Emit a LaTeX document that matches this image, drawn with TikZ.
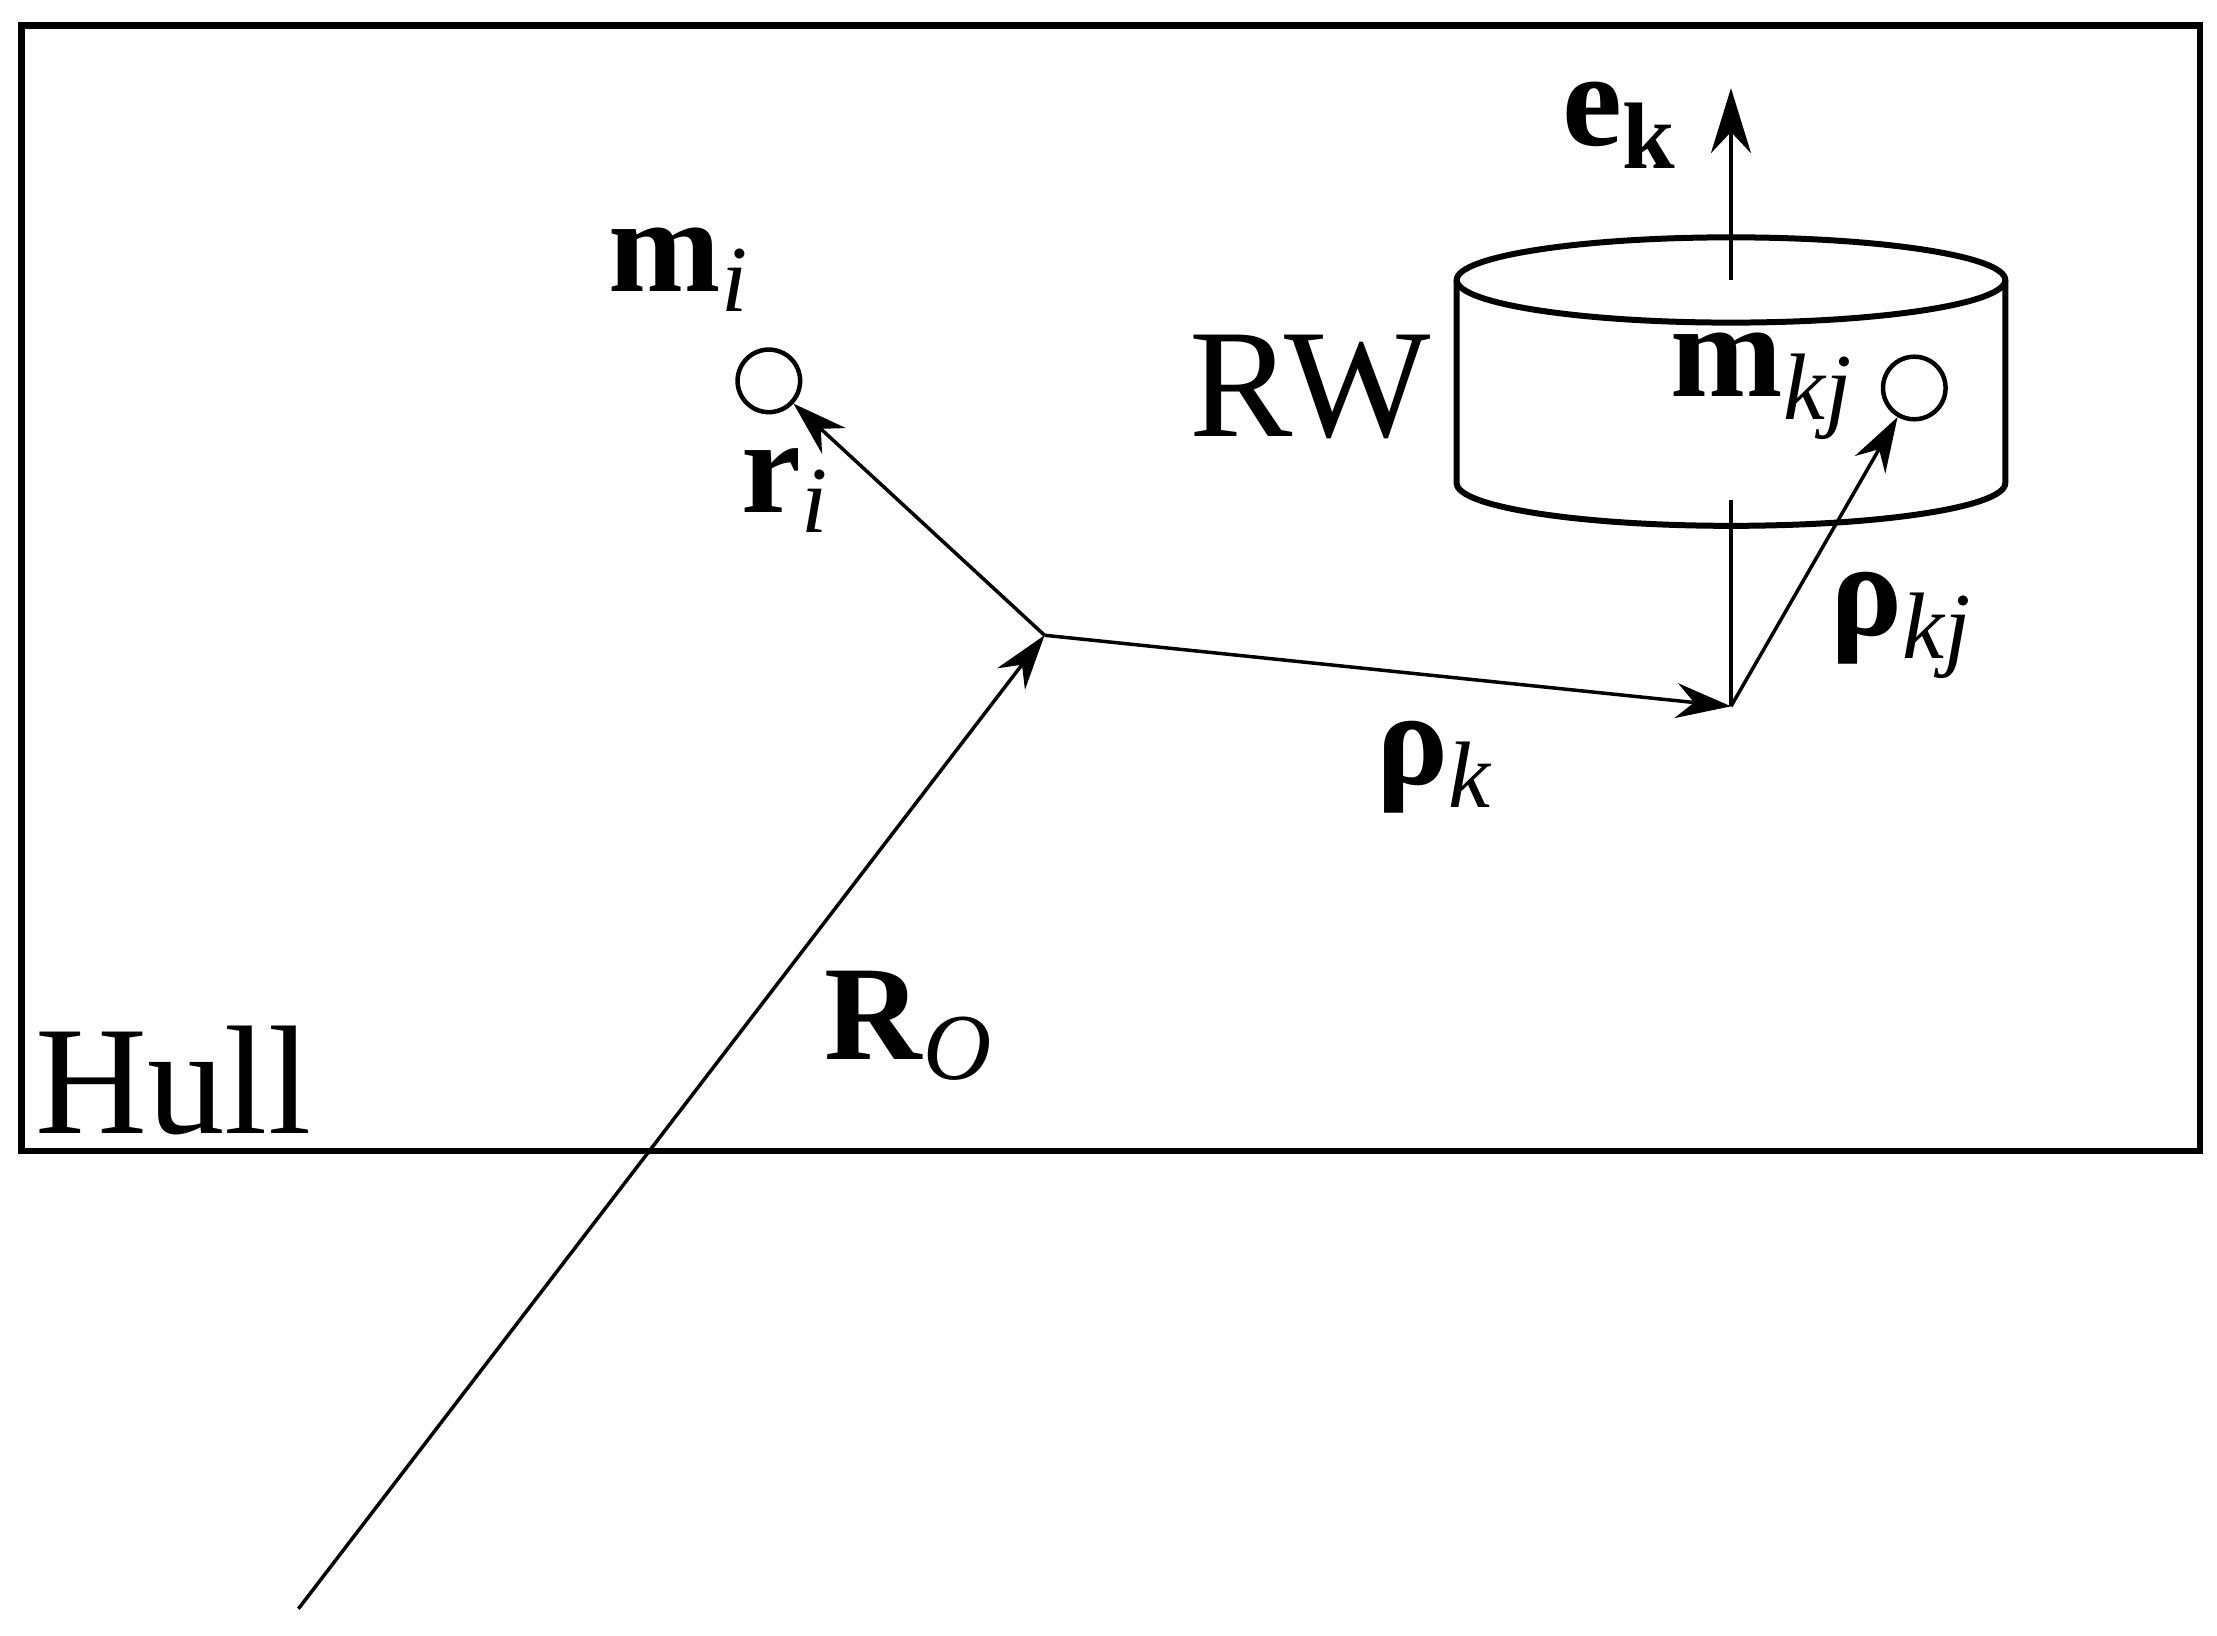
\documentclass[tikz,border=0pt]{standalone}
\usepackage{fontspec}
\setmainfont{Liberation Serif}
\usetikzlibrary{arrows.meta}
\begin{document}
\begin{tikzpicture}[x=0.01cm,y=-0.01cm,
  vec/.style={line width=0.7pt,-{Stealth[length=11pt,width=7pt]}},
  lab/.style={font=\fontsize{27}{31}\selectfont},
  big/.style={font=\fontsize{31}{35}\selectfont},
  pt/.style={circle,draw,line width=0.9pt,minimum size=0.44cm,inner sep=0pt}]
\useasboundingbox (0,0) rectangle (1560,1151);
\draw[line width=1.3pt] (15,18) rectangle (1548,810);
\coordinate (O) at (735,447);
\coordinate (S) at (210,1132);
\coordinate (W) at (1218,497);
\coordinate (B) at (1218,352);
\coordinate (T) at (1218,197);
\coordinate (E) at (1218,62);
\node[pt] (mi) at (541,268) {};
\node[pt] (mk) at (1347,273) {};
% cylinder
\draw[line width=1.2pt] (1025,197) -- (1025,340) arc[start angle=180,end angle=360,x radius=193,y radius=-30] -- (1411,197);
\draw[line width=1.2pt] (T) ellipse[x radius=193,y radius=-30];
\draw[vec] (O) -- (mi);
\draw[vec] (S) -- (O);
\draw[vec] (O) -- (W);
\draw[line width=0.7pt] (W) -- (B);
\draw[vec] (W) -- (mk);
\draw[line width=0.9pt,-{Stealth[length=13pt,width=8pt]}] (T) -- (E);
\node[lab] (lmi) at (478,190) {\textbf{m}\textsubscript{\textit{i}}};
\node[lab] (lri) at (553,345) {\textbf{r}\textsubscript{\textit{i}}};
\node[lab] (lR) at (640,722) {\textbf{R}\textsubscript{\textit{O}}};
\node[lab] (lrk) at (1010,540) {\textbf{ρ}\textsubscript{\textit{k}}};
\node[lab] (lrkj) at (1338,440) {\textbf{ρ}\textsubscript{\textit{kj}}};
\node[lab] (lmk) at (1240,272) {\textbf{m}\textsubscript{\textit{kj}}};
\node[lab] (lek) at (1140,88) {\textbf{e}\textsubscript{\textbf{k}}};
\node[big] (rw) at (922,272) {RW};
\node[big] (hull) at (122,760) {Hull};
\end{tikzpicture}
\end{document}
